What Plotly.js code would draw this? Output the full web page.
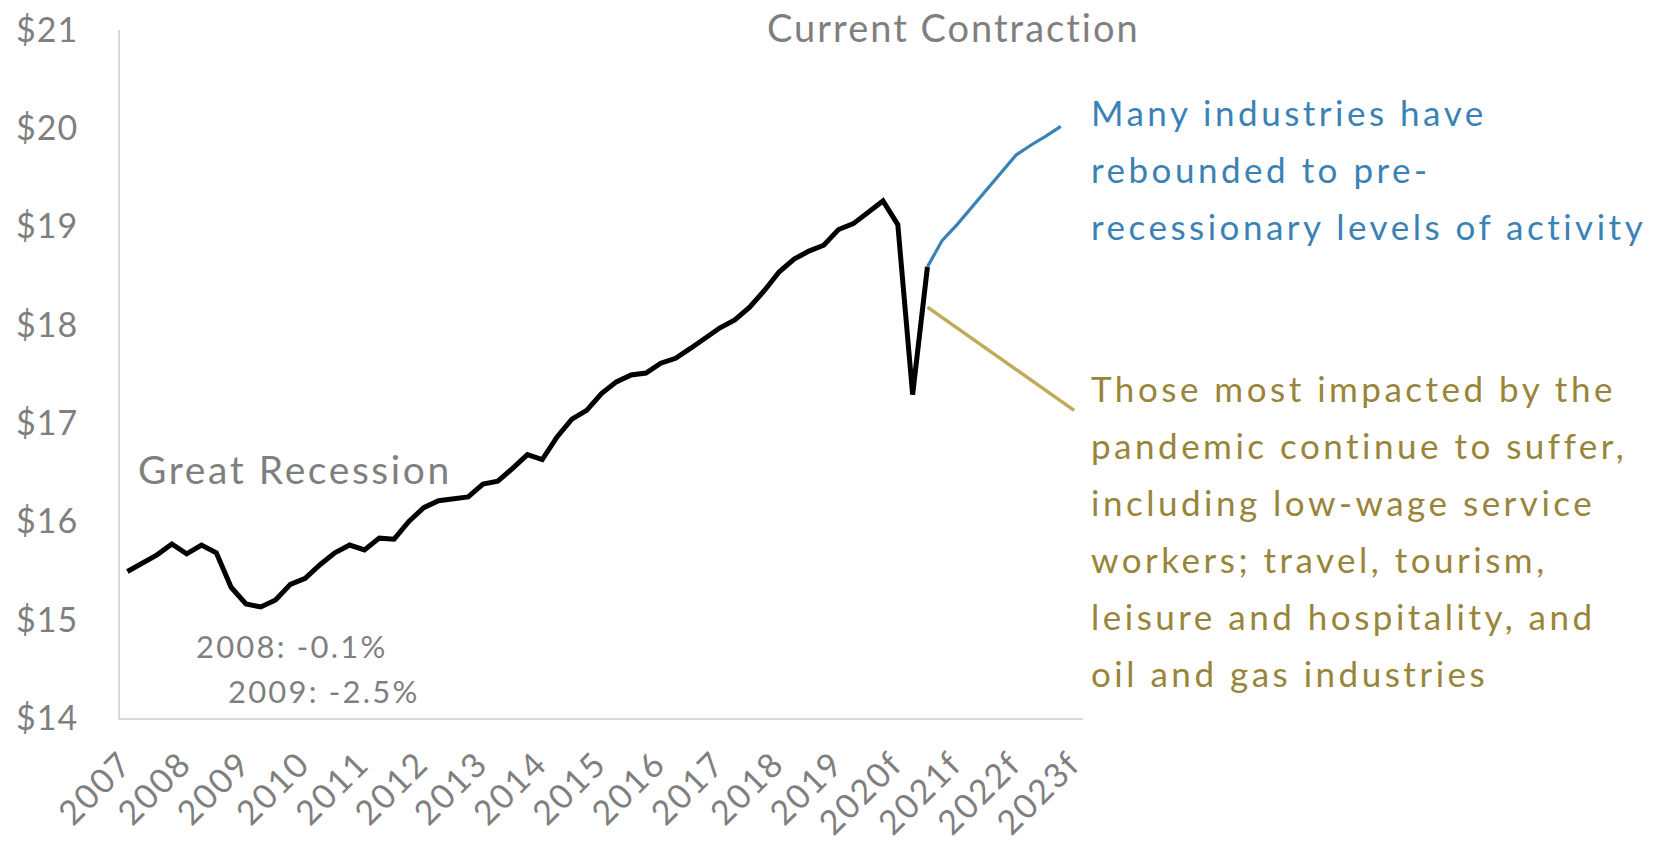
<!DOCTYPE html>
<html>
<head>
<meta charset="utf-8">
<script src="https://cdn.plot.ly/plotly-3.0.1.min.js"></script>
<style>
  html, body { margin: 0; padding: 0; background: #fff; }
  #plot { width: 1665px; height: 845px; }
  /* the original uses a wide geometric face; widen Lato a bit.
     rules match on the text node itself so plotly's measuring copy gets them too */
  .annotation-text { letter-spacing: 3.5px; }
  .annotation-text[style*="font-size: 38px"] { letter-spacing: 2px; }
  .annotation-text[style*="font-size: 39px"] { letter-spacing: 2.6px; }
  .annotation-text[style*="font-size: 31px"] { letter-spacing: 2.2px; }
  .xtick text { letter-spacing: 2px; }
  .ytick text { letter-spacing: 1px; }
</style>
</head>
<body>
<div id="plot"></div>
<script>
// Quarterly values, 2007Q1 = index 0
var actualIdx = [];
var actualVals = [15.49, 15.57, 15.66, 15.77, 15.67, 15.76, 15.68, 15.33, 15.16, 15.13,
  15.20, 15.36, 15.42, 15.56, 15.68, 15.76, 15.71, 15.83, 15.82, 16.00,
  16.14, 16.21, 16.23, 16.25, 16.38, 16.41, 16.54, 16.68, 16.63, 16.86,
  17.04, 17.13, 17.30, 17.42, 17.49, 17.51, 17.61, 17.66, 17.76, 17.86,
  17.97, 18.05, 18.18, 18.35, 18.54, 18.67, 18.75, 18.81, 18.97, 19.03,
  19.15, 19.26, 19.02, 17.29, 18.59];
for (var i = 0; i < actualVals.length; i++) actualIdx.push(i);

// Forecast starts at 2020Q3 (index 54)
var forecastStart = 54;
var forecastVals = [18.59, 18.86, 19.02, 19.20, 19.37, 19.55, 19.73, 19.83, 19.92, 20.02];
var forecastIdx = forecastVals.map(function(v, j) { return forecastStart + j; });

var yearLabels = ["2007", "2008", "2009", "2010", "2011", "2012", "2013", "2014", "2015",
  "2016", "2017", "2018", "2019", "2020f", "2021f", "2022f", "2023f"];
var yearTicks = yearLabels.map(function(l, k) { return k * 4; });

var gray = "#7f7f7f";
var blue = "#3a82b6";
var gold = "#998539";
var font = "Lato, 'Open Sans', sans-serif";

var trace1 = {
  x: actualIdx,
  y: actualVals,
  type: "scatter",
  mode: "lines",
  line: { color: "#000000", width: 5 },
  hoverinfo: "skip"
};

var trace2 = {
  x: forecastIdx,
  y: forecastVals,
  type: "scatter",
  mode: "lines",
  line: { color: blue, width: 3.2 },
  hoverinfo: "skip"
};

// plot area in page pixels: x 120..1083, y 30..718
function px(x) { return (x - 120) / 963; }
function py(y) { return (718 - y) / 688; }

function label(text, x, y, color, size) {
  return {
    xref: "paper", yref: "paper",
    x: px(x), y: py(y),
    text: text, showarrow: false,
    xanchor: "left", yanchor: "middle",
    font: { family: font, size: size, color: color }
  };
}

var blueLines = ["Many industries have", "rebounded to pre-", "recessionary levels of activity"];
var goldLines = ["Those most impacted by the", "pandemic continue to suffer,",
  "including low-wage service", "workers; travel, tourism,",
  "leisure and hospitality, and", "oil and gas industries"];

var annotations = [
  label("Current Contraction", 765, 27, gray, 38),
  label("Great Recession", 136, 469, gray, 39),
  label("2008: -0.1%", 194, 646, gray, 31),
  label("2009: -2.5%", 226, 691, gray, 31)
];
blueLines.forEach(function(t, k) {
  annotations.push(label(t, 1089, 112 + k * 57, blue, 35));
});
goldLines.forEach(function(t, k) {
  annotations.push(label(t, 1089, 388 + k * 57, gold, 35));
});

var layout = {
  width: 1665,
  height: 845,
  margin: { l: 120, r: 582, t: 30, b: 127 },
  showlegend: false,
  paper_bgcolor: "#ffffff",
  plot_bgcolor: "#ffffff",
  font: { family: font, color: gray },
  xaxis: {
    range: [-0.5, 64.5],
    tickvals: yearTicks,
    ticktext: yearLabels,
    tickangle: -45,
    tickfont: { size: 34, color: gray },
    ticklabelstandoff: 10,
    ticklabelshift: -5,
    showline: true,
    linecolor: "#d9d9d9",
    linewidth: 2,
    showgrid: false,
    zeroline: false,
    ticks: ""
  },
  yaxis: {
    range: [14, 21],
    dtick: 1,
    tickprefix: "$",
    tickfont: { size: 34, color: gray },
    ticklabelstandoff: 33,
    showline: true,
    linecolor: "#d9d9d9",
    linewidth: 2,
    showgrid: false,
    zeroline: false,
    ticks: ""
  },
  shapes: [{
    type: "line", xref: "x", yref: "y",
    x0: 54.0, y0: 18.18, x1: 63.9, y1: 17.13,
    line: { color: "#c2aa58", width: 3.5 }
  }],
  annotations: annotations
};

Plotly.newPlot("plot", [trace1, trace2], layout, { staticPlot: true });
</script>
</body>
</html>
